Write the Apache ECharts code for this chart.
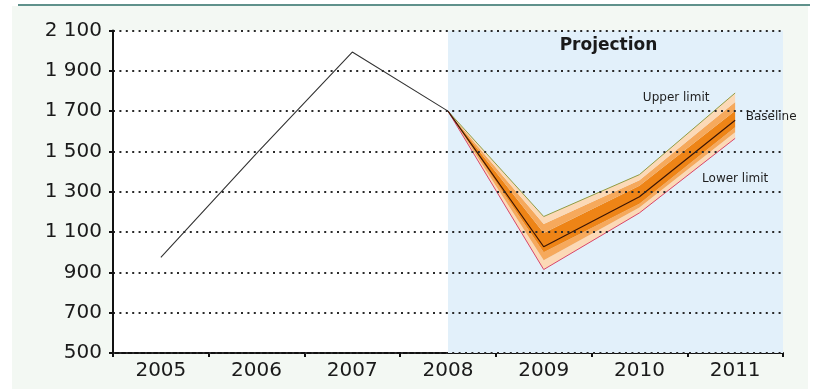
<!DOCTYPE html>
<html>
<head>
<meta charset="utf-8">
<script src="https://cdn.jsdelivr.net/npm/echarts@6/dist/echarts.min.js"></script>
<style>
  html, body { margin: 0; padding: 0; background: #ffffff; }
  #chart { width: 815px; height: 389px; }
</style>
</head>
<body>
<div id="chart"></div>
<script>
// Years on the horizontal axis
const years = ['2005', '2006', '2007', '2008', '2009', '2010', '2011'];
// Y axis tick values
const yTicks = [500, 700, 900, 1100, 1300, 1500, 1700, 1900, 2100];

// Observed path up to 2008
const actual = [975, 1490, 1993, 1700, null, null, null];
// Projected baseline and its limits
const baseline = [null, null, null, 1700, 1027, 1275, 1655];
const upperLimit = [null, null, null, 1700, 1177, 1385, 1790];
const lowerLimit = [null, null, null, 1700, 914, 1195, 1565];
// Inner band edges of the fan, from bottom to top
const fanEdge1 = [null, null, null, 1700, 960, 1222, 1595];
const fanEdge2 = [null, null, null, 1700, 1000, 1240, 1620];
const fanEdge3 = [null, null, null, 1700, 1095, 1330, 1702];
const fanEdge4 = [null, null, null, 1700, 1140, 1357, 1745];

const projectionStart = 3; // index of 2008

const fmt = v => {
  const s = String(v);
  return s.length > 3 ? s.slice(0, s.length - 3) + ' ' + s.slice(-3) : s;
};

const diff = (hi, lo) => hi.map((v, i) => (v == null || lo[i] == null) ? null : v - lo[i]);

const fanLayers = [
  { lo: lowerLimit, hi: fanEdge1, color: '#fcd9b6' },
  { lo: fanEdge1, hi: fanEdge2, color: '#f6a95c' },
  { lo: fanEdge2, hi: fanEdge3, color: '#ee8416' },
  { lo: fanEdge3, hi: fanEdge4, color: '#f6a95c' },
  { lo: fanEdge4, hi: upperLimit, color: '#fcd9b6' }
];

const chart = echarts.init(document.getElementById('chart'), null, { renderer: 'canvas' });

const series = [];

// Shaded projection period, from 2008 to the right end of the axis
series.push({
  type: 'line',
  xAxisIndex: 1,
  data: [],
  z: -1,
  silent: true,
  markArea: {
    silent: true,
    itemStyle: { color: '#e2f0fa' },
    label: {
      show: true,
      position: 'insideTop',
      distance: 7,
      offset: [-7, 0],
      color: '#1a1a1a',
      fontFamily: 'DejaVu Sans',
      fontWeight: 'bold',
      fontSize: 17
    },
    data: [[
      { name: 'Projection', xAxis: projectionStart, yAxis: yTicks[yTicks.length - 1] },
      { xAxis: years.length - 0.5, yAxis: yTicks[0] }
    ]]
  }
});

// Fan: invisible base then stacked bands
series.push({
  type: 'line',
  stack: 'fan',
  data: lowerLimit,
  symbol: 'none',
  lineStyle: { opacity: 0 },
  silent: true,
  z: 2
});
fanLayers.forEach(layer => {
  series.push({
    type: 'line',
    stack: 'fan',
    data: diff(layer.hi, layer.lo),
    symbol: 'none',
    lineStyle: { opacity: 0, width: 0 },
    areaStyle: { color: layer.color, opacity: 1 },
    silent: true,
    z: 2
  });
});

// Observed line
series.push({
  type: 'line',
  data: actual,
  symbol: 'none',
  lineStyle: { color: '#333', width: 1.1 },
  z: 3
});

const lastIdx = years.length - 1;
const noteLabel = {
  show: true,
  position: 'inside',
  color: '#1e1e1e',
  fontFamily: 'DejaVu Sans',
  fontSize: 12
};

// Upper limit
series.push({
  type: 'line',
  data: upperLimit,
  symbol: 'none',
  lineStyle: { color: '#8f9c45', width: 1 },
  z: 3,
  markPoint: {
    symbol: 'circle', symbolSize: 0,
    label: Object.assign({}, noteLabel, { offset: [-59, 5], formatter: 'Upper limit' }),
    data: [{ coord: [lastIdx, upperLimit[lastIdx]] }]
  }
});
// Lower limit
series.push({
  type: 'line',
  data: lowerLimit,
  symbol: 'none',
  lineStyle: { color: '#d9456a', width: 1 },
  z: 3,
  markPoint: {
    symbol: 'circle', symbolSize: 0,
    label: Object.assign({}, noteLabel, { offset: [0, 41], formatter: 'Lower limit' }),
    data: [{ coord: [lastIdx, lowerLimit[lastIdx]] }]
  }
});
// Baseline
series.push({
  type: 'line',
  data: baseline,
  symbol: 'none',
  lineStyle: { color: '#3b1505', width: 1.2 },
  z: 4,
  markPoint: {
    symbol: 'circle', symbolSize: 0,
    label: Object.assign({}, noteLabel, { offset: [36, -3], formatter: 'Baseline' }),
    data: [{ coord: [lastIdx, baseline[lastIdx]] }]
  }
});

chart.setOption({
  animation: false,
  backgroundColor: 'transparent',
  graphic: [
    {
      type: 'rect', z: -10, silent: true,
      shape: { x: 12, y: 6, width: 796, height: 383 },
      style: { fill: '#f3f8f3' }
    },
    {
      type: 'line', z: -9, silent: true,
      shape: { x1: 18, y1: 5, x2: 810, y2: 5 },
      style: { stroke: '#5f918b', lineWidth: 2 }
    }
  ],
  grid: {
    left: 113, right: 32, top: 30.5, bottom: 36,
    show: true, backgroundColor: '#ffffff', borderWidth: 0
  },
  xAxis: [
    {
      type: 'category',
      data: years,
      boundaryGap: true,
      axisLine: { lineStyle: { color: '#111', width: 2 } },
      axisTick: { show: true, inside: false, length: 4, lineStyle: { color: '#111', width: 2 } },
      axisLabel: { color: '#1a1a1a', fontFamily: 'DejaVu Sans', fontSize: 20, margin: 8 },
      splitLine: { show: false }
    },
    {
      type: 'value',
      min: -0.5, max: years.length - 0.5,
      show: false
    }
  ],
  yAxis: {
    type: 'value',
    min: yTicks[0],
    max: yTicks[yTicks.length - 1],
    interval: yTicks[1] - yTicks[0],
    z: 10,
    axisLine: { show: true, onZero: false, lineStyle: { color: '#111', width: 2 } },
    axisTick: { show: true, length: 4, lineStyle: { color: '#111', width: 2 } },
    axisLabel: {
      color: '#1a1a1a', fontFamily: 'DejaVu Sans', fontSize: 20, margin: 11,
      formatter: v => fmt(v)
    },
    splitLine: {
      show: true,
      lineStyle: { color: '#2a2a2a', width: 2, type: [2, 4.4] }
    }
  },
  series: series
});
</script>
</body>
</html>
